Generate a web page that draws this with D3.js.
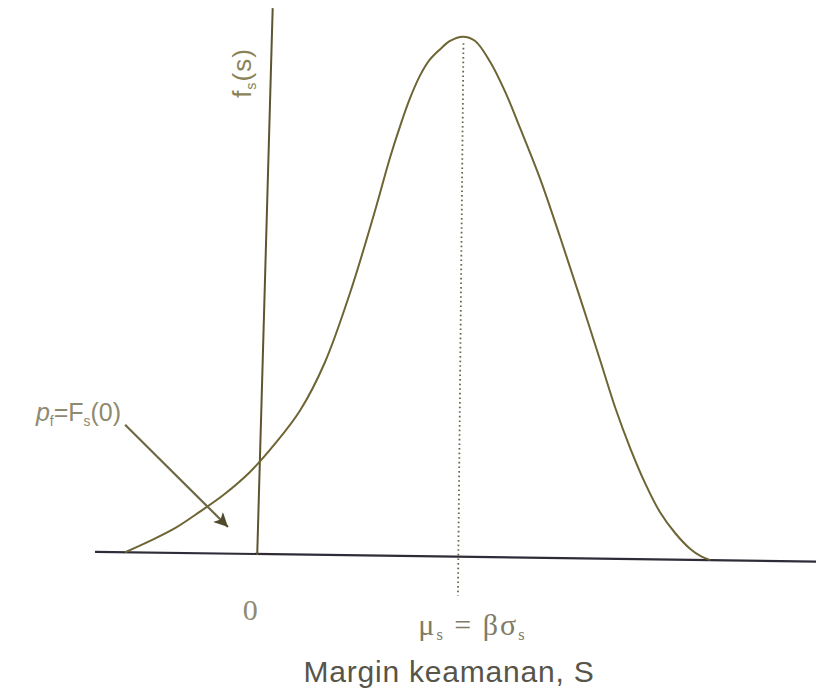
<!DOCTYPE html>
<html>
<head>
<meta charset="utf-8">
<script src="https://cdn.jsdelivr.net/npm/d3@7"></script>
<style>
  html, body { margin: 0; padding: 0; background: #fff; }
  svg { display: block; }
</style>
</head>
<body>
<svg id="chart" width="816" height="696"></svg>
<script>
// Safety margin S (scaled so that μ_s = βσ_s sits at 3) and its density f_s(s)
const marginS = [-1.97, -1.60, -1.23, -0.86, -0.49, -0.12, 0.25, 0.62, 0.98, 1.35,
                 1.71, 1.92, 2.07, 2.21, 2.36, 2.50, 2.65, 2.80, 2.99,
                 3.17, 3.40, 3.63, 3.86, 4.16, 4.47, 4.78, 5.09, 5.32, 5.55,
                 5.78, 6.00, 6.23, 6.46, 6.61, 6.76];
const density = [0.000, 0.009, 0.019, 0.032, 0.046, 0.063, 0.085, 0.111, 0.148, 0.2025,
                 0.266, 0.306, 0.331, 0.352, 0.370, 0.382, 0.390, 0.3966, 0.400,
                 0.397, 0.381, 0.358, 0.330, 0.292, 0.247, 0.200, 0.152, 0.116, 0.085,
                 0.058, 0.0365, 0.0205, 0.0083, 0.0031, 0.000];

// Tick positions on the S axis and their labels (text + subscript pieces)
const tickValues = [0, 3];
const tickLabels = [
  [{t: "0"}],
  [{t: "μ"}, {t: "s", sub: true}, {t: " = β"}, {t: "σ"}, {t: "s", sub: true}]
];

// Failure-probability annotation: arrow from the label into the tail below S = 0
const arrowFrom = [-1.99, 0.098];
const arrowTo = [-0.44, 0.0205];
const pfLabel = [{t: "p", it: true}, {t: "f", sub: true}, {t: "=F"}, {t: "s", sub: true}, {t: "(0)"}];
const yLabel = [{t: "f"}, {t: "s", sub: true}, {t: "(s)"}];
const xTitle = "Margin keamanan, S";

const svg = d3.select("#chart");

const x = d3.scaleLinear().domain([-2.42, 8.5]).range([95, 827]);
const y = d3.scaleLinear().domain([0, 0.42]).range([554, 8]);

// slight shear of the drawing plane (the baseline dips to the right)
const x0 = x(0), y0 = y(0);
const plane = svg.append("g")
  .attr("transform", `translate(${x0},${y0}) matrix(1,0.0135,-0.01,1,0,0) translate(${-x0},${-y0})`);

// horizontal S axis
plane.append("line")
  .attr("x1", x(-2.42)).attr("x2", x(8.5))
  .attr("y1", y(0)).attr("y2", y(0))
  .attr("stroke", "#2f2c38").attr("stroke-width", 2.2);

// vertical f_s(s) axis at S = 0, leaning a little to the right
const yAxisLean = 10;
plane.append("line")
  .attr("x1", x(0)).attr("y1", y(0) + 1)
  .attr("x2", x(0) + yAxisLean).attr("y2", y(0.42))
  .attr("stroke", "#5e5430").attr("stroke-width", 2);

// dotted line at the mean
plane.append("line")
  .attr("x1", x(tickValues[1])).attr("x2", x(tickValues[1]))
  .attr("y1", y(0.395)).attr("y2", y(-0.03))
  .attr("stroke", "#6a6546").attr("stroke-width", 1.8)
  .attr("stroke-dasharray", "1.6,3");

// density curve
const pts = marginS.map((s, i) => [s, density[i]]);
plane.append("path")
  .datum(pts)
  .attr("fill", "none")
  .attr("stroke", "#6e6535")
  .attr("stroke-width", 2)
  .attr("d", d3.line().x(d => x(d[0])).y(d => y(d[1])).curve(d3.curveCatmullRom.alpha(0.5)));

// arrow to the failure region
const defs = svg.append("defs");
defs.append("marker")
  .attr("id", "head")
  .attr("viewBox", "0 0 10 10")
  .attr("refX", 10).attr("refY", 5)
  .attr("markerWidth", 20).attr("markerHeight", 14)
  .attr("markerUnits", "userSpaceOnUse")
  .attr("orient", "auto")
  .append("path")
  .attr("d", "M0,0 L10,5 L0,10 L2.5,5 Z")
  .attr("fill", "#4f4a2c");

plane.append("line")
  .attr("x1", x(arrowFrom[0])).attr("y1", y(arrowFrom[1]))
  .attr("x2", x(arrowTo[0])).attr("y2", y(arrowTo[1]))
  .attr("stroke", "#6d6743").attr("stroke-width", 2.2)
  .attr("marker-end", "url(#head)");

// helper: text built from pieces, subscripts dropped below the baseline
function pieces(sel, parts, size) {
  let down = 0;
  parts.forEach(p => {
    const ts = sel.append("tspan").text(p.t);
    if (p.it) ts.attr("font-style", "italic");
    if (p.sub) {
      ts.attr("font-size", size * 0.55).attr("dy", size * 0.18 - down);
      down = size * 0.18;
    } else {
      ts.attr("dy", -down);
      down = 0;
    }
  });
}

// tick labels
svg.append("text")
  .attr("x", x(tickValues[0]) - 7).attr("y", 620)
  .attr("text-anchor", "middle")
  .attr("font-family", "'Liberation Serif', serif")
  .attr("font-size", 30)
  .attr("fill", "#8e8a74")
  .call(s => pieces(s, tickLabels[0], 30));

svg.append("text")
  .attr("x", x(tickValues[1]) - 40).attr("y", 635)
  .attr("text-anchor", "start")
  .attr("font-family", "'Liberation Serif', serif")
  .attr("font-size", 30)
  .attr("letter-spacing", 2)
  .attr("fill", "#7f7b66")
  .call(s => pieces(s, tickLabels[1], 30));

// axis title
svg.append("text")
  .attr("x", 449).attr("y", 682)
  .attr("text-anchor", "middle")
  .attr("font-family", "'Liberation Sans', Arial, sans-serif")
  .attr("font-size", 30)
  .attr("letter-spacing", 0.8)
  .attr("fill", "#57544a")
  .text(xTitle);

// vertical axis label, rotated
svg.append("text")
  .attr("transform", "translate(251,73) rotate(-90)")
  .attr("text-anchor", "middle")
  .attr("font-family", "'Liberation Sans', Arial, sans-serif")
  .attr("font-size", 26)
  .attr("letter-spacing", 1)
  .attr("fill", "#8a8358")
  .call(s => pieces(s, yLabel, 26));

// failure probability label
svg.append("text")
  .attr("x", 121).attr("y", 421)
  .attr("text-anchor", "end")
  .attr("font-family", "'Liberation Sans', Arial, sans-serif")
  .attr("font-size", 25)
  .attr("fill", "#8e8a70")
  .call(s => pieces(s, pfLabel, 25));
</script>
</body>
</html>
